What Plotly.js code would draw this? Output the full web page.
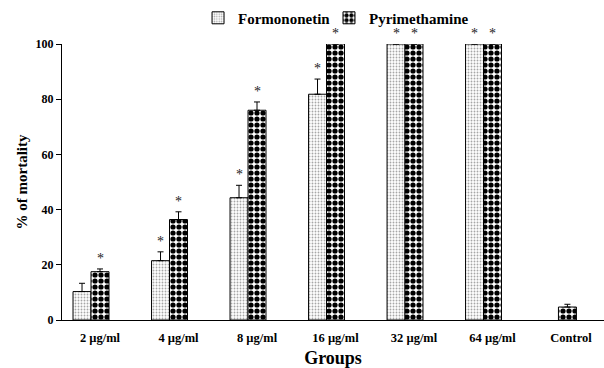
<!DOCTYPE html>
<html>
<head>
<meta charset="utf-8">
<script src="https://cdn.plot.ly/plotly-3.0.1.min.js"></script>
<style>html,body{margin:0;padding:0;background:#fff;}#chart{width:604px;height:368px;}</style>
</head>
<body>
<div id="chart"></div>
<script>
// ---- data ----
const groups = ["2 µg/ml", "4 µg/ml", "8 µg/ml", "16 µg/ml", "32 µg/ml", "64 µg/ml", "Control"];
const formononetin = [10.3, 21.5, 44.3, 81.8, 100, 100, null];
const formononetinErr = [3, 3.2, 4.5, 5.5, 0, 0, 0];
const formononetinSig = [false, true, true, true, true, true, false];
const pyrimethamine = [17.5, 36.4, 76, 100, 100, 100, 4.7];
const pyrimethamineErr = [1, 2.8, 3, 0, 0, 0, 1];
const pyrimethamineSig = [true, true, true, true, true, true, false];
const yTicks = [0, 20, 40, 60, 80, 100];

// ---- style ----
const FONT = "Liberation Serif";
const W = 0.229;                 // bar width in category units
const offF = groups.map(() => -1.5 * W);
const offP = groups.map((g, i) => (g === "Control" ? -0.7 * W : -0.5 * W));

const traces = [
  {
    type: "bar", name: "Formononetin", x: groups, y: formononetin, legend: "legend",
    width: W, offset: offF,
    marker: {
      color: "#ffffff",
      line: { color: "#000", width: 1 },
      pattern: { shape: ".", fgcolor: "#a6a6a6", bgcolor: "#ffffff", size: 3, solidity: 0.3 }
    },
    error_y: { type: "data", array: formononetinErr, arrayminus: formononetinErr.map(() => 0), symmetric: false,
               color: "#000", thickness: 1, width: 3 }
  },
  {
    type: "bar", name: "Pyrimethamine", x: groups, y: pyrimethamine, legend: "legend2",
    width: W, offset: offP,
    marker: {
      color: "#ffffff",
      line: { color: "#000", width: 1 },
      pattern: { shape: ".", fgcolor: "#000", bgcolor: "#ffffff", size: 6, solidity: 0.6 }
    },
    error_y: { type: "data", array: pyrimethamineErr, arrayminus: pyrimethamineErr.map(() => 0), symmetric: false,
               color: "#000", thickness: 1, width: 3 }
  }
];

const annotations = [];
groups.forEach((g, i) => {
  if (formononetinSig[i] && formononetin[i] != null) {
    annotations.push({ x: i + offF[i] + W / 2, y: formononetin[i] + formononetinErr[i], xref: "x", yref: "y",
      text: "*", showarrow: false, yanchor: "bottom", yshift: 1, font: { family: FONT, size: 14, color: "#222" } });
  }
  if (pyrimethamineSig[i] && pyrimethamine[i] != null) {
    annotations.push({ x: i + offP[i] + W / 2, y: pyrimethamine[i] + pyrimethamineErr[i], xref: "x", yref: "y",
      text: "*", showarrow: false, yanchor: "bottom", yshift: 1, font: { family: FONT, size: 14, color: "#222" } });
  }
});

const legendFont = { family: FONT, size: 15, color: "#000", weight: "bold" };
const layout = {
  width: 604, height: 368,
  margin: { l: 62, r: 0, t: 44, b: 48 },
  paper_bgcolor: "#fff", plot_bgcolor: "#fff",
  font: { family: FONT, color: "#000" },
  barmode: "overlay",
  showlegend: true,
  legend: {
    orientation: "h", x: 0.251, xanchor: "left", y: 1.094, yanchor: "middle",
    font: legendFont, itemwidth: 30, bgcolor: "rgba(0,0,0,0)"
  },
  legend2: {
    orientation: "h", x: 0.4926, xanchor: "left", y: 1.094, yanchor: "middle",
    font: legendFont, itemwidth: 30, bgcolor: "rgba(0,0,0,0)"
  },
  xaxis: {
    type: "category", range: [-0.484, 6.42],
    showline: true, linecolor: "#000", linewidth: 1,
    ticks: "", showgrid: false, zeroline: false,
    ticklabelstandoff: 6,
    tickfont: { family: FONT, size: 12.5, color: "#000", weight: "bold" },
    title: { text: "Groups", font: { family: FONT, size: 18, color: "#000", weight: "bold" }, standoff: 9 },
    automargin: false
  },
  yaxis: {
    range: [0, 100], tickvals: yTicks, ticktext: yTicks.map(String),
    showline: true, linecolor: "#000", linewidth: 1,
    ticks: "outside", ticklen: 5, tickcolor: "#000",
    showgrid: false, zeroline: false,
    tickfont: { family: FONT, size: 12, color: "#000", weight: "bold" },
    title: { text: "% of mortality", font: { family: FONT, size: 15, color: "#000", weight: "bold" }, standoff: 4 },
    automargin: false
  },
  annotations: annotations
};

Plotly.newPlot("chart", traces, layout, { displayModeBar: false, staticPlot: true });
</script>
</body>
</html>
